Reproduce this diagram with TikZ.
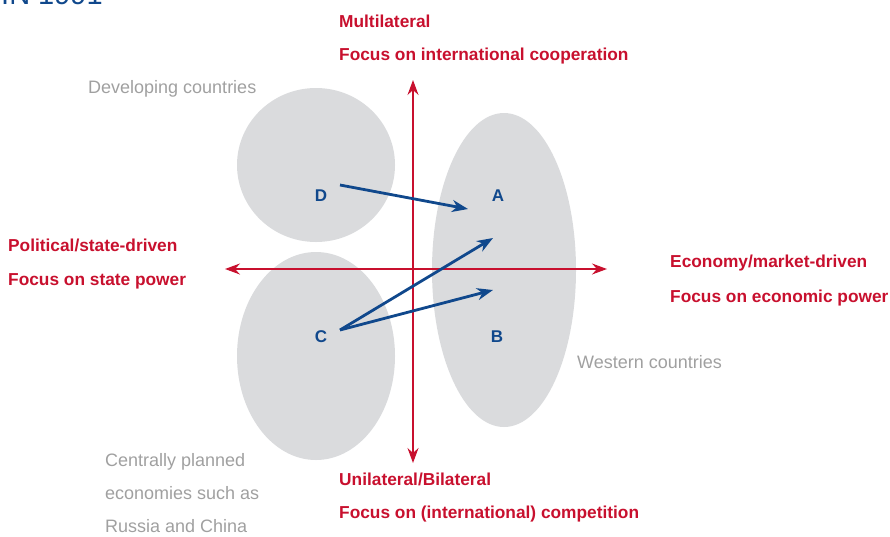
\documentclass[tikz,border=0pt]{standalone}
\usepackage{fontspec}
\setmainfont{Liberation Sans}
\usetikzlibrary{arrows.meta,shapes.geometric}
\definecolor{zone}{RGB}{218,219,221}
\definecolor{axisred}{RGB}{200,16,46}
\definecolor{arrowblue}{RGB}{16,72,140}
\definecolor{labelgray}{RGB}{160,160,160}
\tikzset{
  zonebox/.style={ellipse, fill=zone, draw=none, inner sep=0pt},
  axisline/.style={draw=axisred, line width=1.3pt, {Stealth[length=15pt,width=11pt,inset=5pt]}-{Stealth[length=15pt,width=11pt,inset=5pt]}},
  moveline/.style={draw=arrowblue, line width=2.8pt, -{Stealth[length=16pt,width=12pt,inset=5pt]}},
  redtext/.style={text=axisred, font=\fontsize{17.3}{20}\selectfont\bfseries, anchor=base west, inner sep=0pt},
  graytext/.style={text=labelgray, font=\fontsize{18}{20}\selectfont, anchor=base west, inner sep=0pt},
  letter/.style={text=arrowblue, font=\fontsize{17}{20}\selectfont\bfseries, inner sep=0pt},
}
\begin{document}
\begin{tikzpicture}[x=1pt,y=-1pt]
\useasboundingbox (0,0) rectangle (890,536);
\clip (0,0) rectangle (890,536);
% title, cut off at the top
\node[text=arrowblue, font=\fontsize{29}{30}\selectfont, anchor=base west, inner sep=0pt] (title) at (1,4) {IN 1991};
% zones
\node[zonebox, minimum width=158pt, minimum height=154pt] (zoneD) at (316,165) {};
\node[zonebox, minimum width=158pt, minimum height=208pt] (zoneC) at (316,356) {};
\node[zonebox, minimum width=144pt, minimum height=314pt] (zoneAB) at (504,270) {};
% axes
\coordinate (top) at (413,80);
\coordinate (bottom) at (413,463);
\coordinate (left) at (225,269);
\coordinate (right) at (607,269);
\draw[axisline] (top) -- (bottom);
\draw[axisline] (left) -- (right);
% letters
\node[letter] (D) at (321,196) {D};
\node[letter] (A) at (498,196) {A};
\node[letter] (C) at (321,337) {C};
\node[letter] (B) at (497,337) {B};
% movements
\coordinate (Dstart) at (340,185);
\coordinate (Dend) at (468,209);
\coordinate (Cstart) at (340,330);
\coordinate (CendA) at (493,238);
\coordinate (CendB) at (493,290);
\draw[moveline] (Dstart) -- (Dend);
\draw[moveline] (Cstart) -- (CendA);
\draw[moveline] (Cstart) -- (CendB);
% axis labels
\node[redtext] (multi) at (339,27) {Multilateral};
\node[redtext] (multi2) at (339,60) {Focus on international cooperation};
\node[redtext] (pol) at (8,251) {Political/state-driven};
\node[redtext] (pol2) at (8,285) {Focus on state power};
\node[redtext] (eco) at (670,267) {Economy/market-driven};
\node[redtext] (eco2) at (670,302) {Focus on economic power};
\node[redtext] (uni) at (339,485) {Unilateral/Bilateral};
\node[redtext] (uni2) at (339,518) {Focus on (international) competition};
% zone labels
\node[graytext] (dev) at (88,93) {Developing countries};
\node[graytext] (west) at (577,368) {Western countries};
\node[graytext] (cent1) at (105,466) {Centrally planned};
\node[graytext] (cent2) at (105,499) {economies such as};
\node[graytext] (cent3) at (105,532) {Russia and China};
\end{tikzpicture}
\end{document}
